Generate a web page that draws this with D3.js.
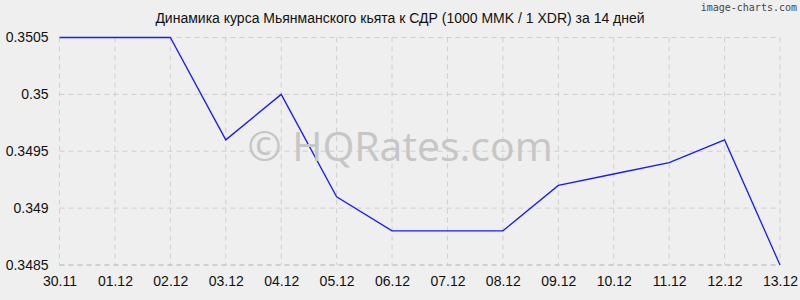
<!DOCTYPE html>
<html>
<head>
<meta charset="utf-8">
<script src="https://cdn.jsdelivr.net/npm/d3@7"></script>
<style>
  html, body { margin: 0; padding: 0; background: #efefef; }
  svg { display: block; font-family: "Liberation Sans", Arial, sans-serif; }
</style>
</head>
<body>
<div id="chart"></div>
<script>
// Data
const dates = ['30.11', '01.12', '02.12', '03.12', '04.12', '05.12', '06.12',
  '07.12', '08.12', '09.12', '10.12', '11.12', '12.12', '13.12'];
const rates = [0.3505, 0.3505, 0.3505, 0.3496, 0.35, 0.3491, 0.3488,
  0.3488, 0.3488, 0.3492, 0.3493, 0.3494, 0.3496, 0.3485];
const yTicks = [0.3485, 0.349, 0.3495, 0.35, 0.3505];
const yTickLabels = ['0.3485', '0.349', '0.3495', '0.35', '0.3505'];

const title = 'Динамика курса Мьянманского кьята к СДР (1000 MMK / 1 XDR) за 14 дней';

const W = 800, H = 300;
const margin = { top: 37.5, right: 20, bottom: 35, left: 59.5 };
const width = W - margin.left - margin.right;
const height = H - margin.top - margin.bottom;

const svg = d3.select('#chart').append('svg')
  .attr('width', W)
  .attr('height', H);

svg.append('rect').attr('width', W).attr('height', H).attr('fill', '#efefef');

const x = d3.scalePoint().domain(dates).range([0, width]);
const y = d3.scaleLinear().domain([0.3485, 0.3505]).range([height, 0]);

const g = svg.append('g').attr('transform', `translate(${margin.left},${margin.top})`);

// grid (dashed)
g.append('g')
  .selectAll('line')
  .data(dates)
  .enter().append('line')
  .attr('x1', d => x(d)).attr('x2', d => x(d))
  .attr('y1', 0).attr('y2', height)
  .attr('stroke', '#cfcfcf')
  .attr('stroke-dasharray', '5,4');

g.append('g')
  .selectAll('line')
  .data(yTicks)
  .enter().append('line')
  .attr('x1', 0).attr('x2', width)
  .attr('y1', d => y(d)).attr('y2', d => y(d))
  .attr('stroke', d => d === yTicks[0] ? '#b0b0b0' : '#cfcfcf')
  .attr('stroke-dasharray', '5,4');

// watermark
svg.append('text')
  .attr('x', 400)
  .attr('y', 161)
  .attr('text-anchor', 'middle')
  .attr('font-family', '"Open Sans", "Noto Sans", sans-serif')
  .attr('font-size', 41)
  .attr('fill', '#c6c6c6')
  .text('© HQRates.com');

// axes
const yAxis = g.append('g')
  .call(d3.axisLeft(y).tickValues(yTicks).tickFormat((d, i) => yTickLabels[i]).tickSize(0).tickPadding(11));
yAxis.select('.domain').remove();
yAxis.selectAll('text')
  .style('font-family', '"Liberation Sans", Arial, sans-serif')
  .style('font-size', '14px')
  .attr('fill', '#111');

const xAxis = g.append('g')
  .attr('transform', `translate(0,${height})`)
  .call(d3.axisBottom(x).tickSize(0).tickPadding(11));
xAxis.select('.domain').remove();
xAxis.selectAll('text')
  .style('font-family', '"Liberation Sans", Arial, sans-serif')
  .style('font-size', '14px')
  .attr('fill', '#111');

// line
const line = d3.line()
  .x((d, i) => x(dates[i]))
  .y(d => y(d));

g.append('path')
  .datum(rates)
  .attr('fill', 'none')
  .attr('stroke', '#1a1aff')
  .attr('stroke-width', 1.3)
  .attr('d', line);

// title
svg.append('text')
  .attr('x', 400)
  .attr('y', 23)
  .attr('text-anchor', 'middle')
  .style('font-size', '14px')
  .attr('fill', '#111')
  .text(title);

svg.append('text')
  .attr('x', 797)
  .attr('y', 11)
  .attr('text-anchor', 'end')
  .attr('font-family', '"DejaVu Sans Mono", monospace')
  .attr('font-size', 10)
  .attr('fill', '#444')
  .text('image-charts.com');
</script>
</body>
</html>
